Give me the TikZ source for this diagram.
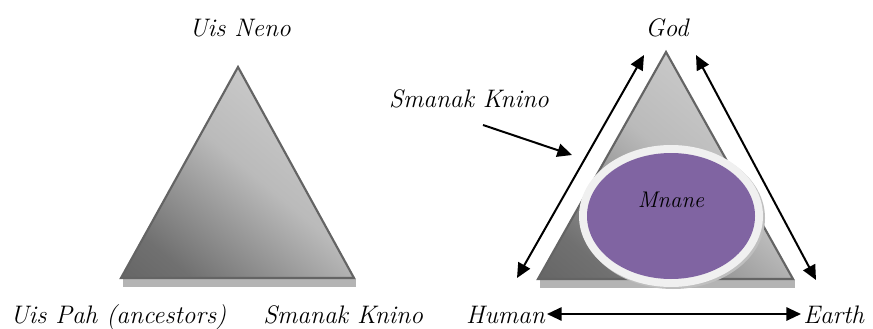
\documentclass[tikz,border=0pt]{standalone}
\usepackage{fontspec}
\usetikzlibrary{arrows.meta,shapes.geometric}
\definecolor{edgegray}{HTML}{646464}
\definecolor{shadowgray}{HTML}{B4B4B4}
\definecolor{mpurple}{HTML}{8064A2}
\pgfdeclareverticalshading{trishade}{100bp}{color(0bp)=(black!66); color(25bp)=(black!56); color(40bp)=(black!40); color(52bp)=(black!27); color(70bp)=(black!21); color(100bp)=(black!28)}
\tikzset{
  lbl/.style={font=\fontsize{19}{23}\selectfont\itshape, inner sep=0pt},
  tri/.style={shading=trishade, shading angle=-40, draw=edgegray, line width=1.6pt, line join=miter},
  triShadow/.style={fill=shadowgray},
  dbl/.style={line width=1.5pt, {Triangle[length=11pt,width=10pt]}-{Triangle[length=11pt,width=10pt]}},
  sgl/.style={line width=1.5pt, -{Triangle[length=11pt,width=10pt]}},
}
\begin{document}
\begin{tikzpicture}[x=0.75pt,y=-0.75pt]
\useasboundingbox (0,0) rectangle (873,328);
% left triangle
\coordinate (LA) at (238,67);
\coordinate (LB) at (121,278);
\coordinate (LC) at (354,278);
\fill[triShadow] (123,279) rectangle (356,287);
\shade[tri] (LA) -- (LB) -- (LC) -- cycle;
\node[lbl, anchor=base] (uisneno) at (240,37) {Uis Neno};
\node[lbl, anchor=base west] (uispah) at (10,323) {Uis Pah (ancestors)};
\node[lbl, anchor=base west] (smanak1) at (263,323) {Smanak Knino};
% right triangle
\coordinate (RA) at (666,52);
\coordinate (RB) at (538,279);
\coordinate (RC) at (793,279);
\fill[triShadow] (540,280) rectangle (795,288);
\shade[tri] (RA) -- (RB) -- (RC) -- cycle;
% ellipse
\fill[black!25] (673,218) ellipse [x radius=92, y radius=71];
\fill[white!94!black] (671,216) ellipse [x radius=92, y radius=71];
\node[ellipse, minimum width=126pt, minimum height=94.5pt, fill=mpurple, inner sep=0pt] (mnane) at (671,216) {};
\node[lbl, font=\fontsize{17}{20}\selectfont\itshape, anchor=base] (mnanelbl) at (671,207) {Mnane};
% labels
\node[lbl, anchor=base] (god) at (667,37) {God};
\node[lbl, anchor=base] (smanak2) at (469,107) {Smanak Knino};
\node[lbl, anchor=base east] (human) at (545,323) {Human};
\node[lbl, anchor=base west] (earth) at (803,323) {Earth};
% arrows
\coordinate (a1) at (517,278);
\coordinate (a2) at (644,55);
\coordinate (b1) at (696,55);
\coordinate (b2) at (816,280);
\draw[dbl] (a1) -- (a2);
\draw[dbl] (b1) -- (b2);
\coordinate (h1) at (547,314);
\coordinate (h2) at (801,314);
\draw[dbl] (h1) -- (h2);
\coordinate (p1) at (483,125);
\coordinate (p2) at (572,155);
\draw[sgl] (p1) -- (p2);
\end{tikzpicture}
\end{document}
